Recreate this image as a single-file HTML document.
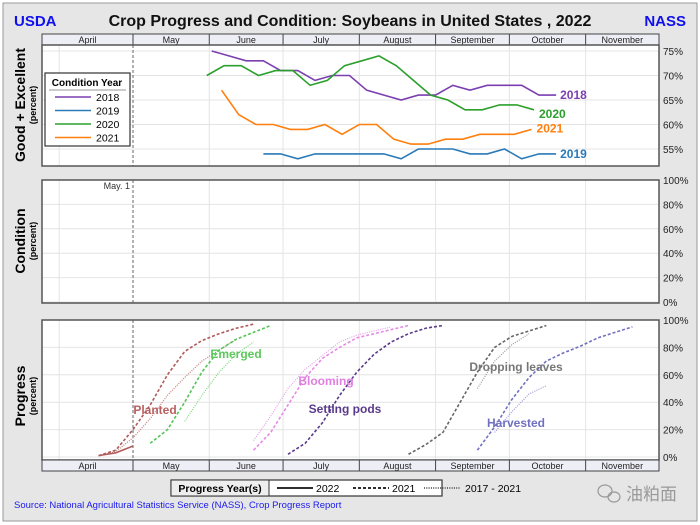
<!DOCTYPE html>
<html><head><meta charset="utf-8"><style>
body{margin:0;background:#fff}
svg{display:block;font-family:"Liberation Sans",sans-serif}
</style></head><body>
<svg id="c" width="700" height="525" viewBox="0 0 700 525" xmlns="http://www.w3.org/2000/svg">
<rect x="3" y="3" width="694" height="518" fill="#e6e6e6" stroke="#999" stroke-width="1"/>
<text x="14" y="26" font-size="15" font-weight="bold" fill="#1010ee">USDA</text>
<text x="350" y="26" font-size="16" font-weight="bold" text-anchor="middle" fill="#111">Crop Progress and Condition: Soybeans in United States , 2022</text>
<text x="686" y="26" font-size="15" font-weight="bold" text-anchor="end" fill="#1010ee">NASS</text>
<g id="g"></g>
</svg>
<script>
// ---------- data ----------
const months = ["April","May","June","July","August","September","October","November"];
const monthStartDays = [-30,0,31,61,92,123,153,184]; // days relative to May 1
const condYears = ["2018","2019","2020","2021"];
const condStart = [32,53,30,36];
const cond2018 = [75,74,73,73,71,71,69,70,70,67,66,65,66,66,68,67,68,68,68,66,66];
const cond2019 = [54,54,53,54,54,54,54,54,53,55,55,55,54,54,55,53,54,54];
const cond2020 = [70,72,72,70,71,71,68,69,72,73,74,72,69,66,65,63,63,64,64,63];
const cond2021 = [67,62,60,60,59,59,60,58,60,60,57,56,56,57,57,58,58,58,59];
const condTicks = [55,60,65,70,75];
const pctTicks = [0,20,40,60,80,100];
const stages = ["Planted","Emerged","Blooming","Setting pods","Dropping leaves","Harvested"];
const planted2022 = [1,3,8];
const planted2021 = [1,5,20,38,60,77,85,90,94,97];
const plantedAvg = [1,4,14,28,45,58,70,78,86];
const emerged2021 = [10,20,40,62,78,86,91,96];
const emergedAvg = [26,45,62,75,84];
const blooming2021 = [5,18,38,58,72,80,87,90,93,96];
const bloomingAvg = [12,30,50,64,74,84,89,92,95];
const pods2021 = [2,10,25,45,62,75,84,90,94,96];
const dropping2021 = [2,9,18,40,62,80,88,92,96];
const droppingAvg = [50,70,82,90];
const harvested2021 = [5,22,42,58,70,76,81,87,91,95];
const harvestedAvg = [18,33,46,52];

// ---------- scales ----------
const L=42,R=659;
const xd=d=>133+d*2.46;
const yc=v=>51+(75-v)*4.9;
const ym=v=>302-v*1.22;
const yp=v=>457-v*1.37;
const NS="http://www.w3.org/2000/svg";
const G=document.getElementById('g');
function mk(tag,attrs,parent){const e=document.createElementNS(NS,tag);for(const k in attrs)e.setAttribute(k,attrs[k]);(parent||G).appendChild(e);return e;}
function txt(s,attrs){const e=mk('text',attrs);e.textContent=s;return e;}

function panel(top,bot,name,ticks,yf,fmt){
  const r=mk('rect',{x:L,y:top,width:R-L,height:bot-top,fill:'#fff'});
  
  
  ticks.forEach(t=>{
    const l=mk('line',{x1:L,x2:R,y1:yf(t),y2:yf(t),stroke:'#e4e4e4'});
    
    
    const tx=txt(fmt(t),{x:R+4,y:yf(t)+4,'font-size':10,fill:'#222'});
    
    
  });
  [-30,31,61,92,123,153,184].forEach(d=>{
    const l=mk('line',{x1:xd(d),x2:xd(d),y1:top,y2:bot,stroke:'#e4e4e4'});
    
    
  });
  const dl=mk('line',{x1:xd(0),x2:xd(0),y1:top,y2:bot,stroke:'#666','stroke-dasharray':'3,2'});
  
  
  const b=mk('rect',{x:L,y:top,width:R-L,height:bot-top,fill:'none',stroke:'#555','stroke-width':1.5});
  
  
}
function monthBar(y){
  const r=mk('rect',{x:L,y:y,width:R-L,height:11,fill:'#eeeef6',stroke:'#444'});
  
  
  months.forEach((m,i)=>{
    const a=i==0?L:xd(monthStartDays[i]);const b=i<7?xd(monthStartDays[i+1]):R;
    if(i>0){const l=mk('line',{x1:a,x2:a,y1:y,y2:y+11,stroke:'#444'});
      
      }
    const t=txt(m,{x:(a+b)/2,y:y+9,'font-size':9,'text-anchor':'middle',fill:'#222'});
    
    
  });
}
function ytitle(x,y,main,sub,name){
  const t=txt(main,{x:0,y:0,'font-size':14,'font-weight':'bold','text-anchor':'middle',transform:`translate(${x},${y}) rotate(-90)`});
  
  
  const s=txt(sub,{x:0,y:0,'font-size':9,'font-weight':'bold','text-anchor':'middle',transform:`translate(${x+11},${y}) rotate(-90)`});
  
  
}

// top panel
monthBar(34);
panel(45,166,'condition-ge',condTicks,yc,t=>t+'%');
ytitle(25,105,'Good + Excellent','(percent)','good-excellent');
const condCols=['#7b3fb0','#2a7ab8','#2ca02c','#ff7f0e'];
const condData=[cond2018,cond2019,cond2020,cond2021];
condData.forEach((arr,i)=>{
  const p=mk('polyline',{points:arr.map((v,k)=>xd(condStart[i]+7*k)+','+yc(v)).join(' '),fill:'none',stroke:condCols[i],'stroke-width':1.6});
  
  
  const last=arr.length-1;
  const off=[[4,4],[4,4],[5,8],[5,3]][i];
  const t=txt(condYears[i],{x:xd(condStart[i]+7*last)+off[0],y:yc(arr[last])+off[1],'font-size':12,'font-weight':'bold',fill:condCols[i]});
  
  
});
const lg=mk('rect',{x:45,y:73,width:85,height:73,fill:'#fff',stroke:'#333','stroke-width':1.2});


const lt=txt('Condition Year',{x:87,y:86,'font-size':10,'font-weight':'bold','text-anchor':'middle'});


mk('line',{x1:49,x2:126,y1:90,y2:90,stroke:'#999'});
condYears.forEach((y,i)=>{
  const l=mk('line',{x1:55,x2:91,y1:97+i*13.5,y2:97+i*13.5,stroke:condCols[i],'stroke-width':1.6});
  
  
  const t=txt(y,{x:96,y:101+i*13.5,'font-size':10.5});
  
  
});

// middle panel
panel(180,303,'condition',pctTicks,ym,t=>t+'%');
ytitle(25,241,'Condition','(percent)','condition');
const ml=txt('May.  1',{x:130,y:189,'font-size':9,'text-anchor':'end',fill:'#333'});



// bottom panel
panel(320,460,'progress',pctTicks,yp,t=>t+'%');
monthBar(460);
ytitle(25,396,'Progress','(percent)','progress');
function series(arr,start,col,dash,w,name){
  const p=mk('polyline',{points:arr.map((v,k)=>xd(start+7*k)+','+yp(v)).join(' '),fill:'none',stroke:col,'stroke-width':w,'stroke-dasharray':dash});
  
  
}
const DA='3,2',DO='1,1.3';
series(plantedAvg,-14,'#c07a7a',DO,1.2,'planted-avg');
series(planted2021,-14,'#b05a5a',DA,1.6,'planted-2021');
series(planted2022,-14,'#b05a5a','',1.6,'planted-2022');
series(emergedAvg,21,'#7ed67e',DO,1.2,'emerged-avg');
series(emerged2021,7,'#55c455',DA,1.6,'emerged-2021');
series(bloomingAvg,49,'#e6a0e6',DO,1.2,'blooming-avg');
series(blooming2021,49,'#e68ae6',DA,1.6,'blooming-2021');
series(pods2021,63,'#5a3a8a',DA,1.6,'setting-pods-2021');
series(droppingAvg,140,'#999',DO,1.2,'dropping-avg');
series(dropping2021,112,'#666',DA,1.6,'dropping-2021');
series(harvestedAvg,147,'#9a9ad6',DO,1.2,'harvested-avg');
series(harvested2021,140,'#7070c0',DA,1.6,'harvested-2021');
const slab=[[155,410,'#b86060'],[236,354,'#5cc85c'],[326,381,'#e080e0'],[345,409,'#5a3a8a'],[516,367,'#777'],[516,423,'#7070c0']];
stages.forEach((s,i)=>{
  const t=txt(s,{x:slab[i][0],y:slab[i][1]+4,'font-size':12,'font-weight':'bold','text-anchor':'middle',fill:slab[i][2]});
  
  
});

// progress legend
const pl=mk('rect',{x:171,y:480,width:271,height:16,fill:'#fff',stroke:'#333','stroke-width':1.2});


mk('rect',{x:171,y:480,width:98,height:16,fill:'#eee',stroke:'#333'});
const pt=txt('Progress Year(s)',{x:220,y:492,'font-size':10.5,'font-weight':'bold','text-anchor':'middle'});


[['2022','',277,'#111'],['2021',DA,353,'#111'],['2017 - 2021',DO,424,'#555']].forEach(e=>{
  const l=mk('line',{x1:e[2],x2:e[2]+36,y1:488,y2:488,stroke:e[3],'stroke-width':1.8,'stroke-dasharray':e[1]});
  
  
});
[['2022',316],['2021',392],['2017 - 2021',465]].forEach(e=>{
  const t=txt(e[0],{x:e[1],y:492,'font-size':10.5});
  
  
});
const src=txt('Source: National Agricultural Statistics Service (NASS), Crop Progress Report',{x:14,y:508,'font-size':9.5,fill:'#1a1aee'});


const wc=mk('g',{});


mk('ellipse',{cx:605,cy:491,rx:7,ry:6,fill:'none',stroke:'#999','stroke-width':1.2},wc);
mk('ellipse',{cx:614,cy:497,rx:6,ry:5,fill:'none',stroke:'#999','stroke-width':1.2},wc);
const w=txt('油粕面',{x:626,y:500,'font-size':17,fill:'#999','font-family':'"Liberation Sans","Noto Sans CJK SC",sans-serif'});


</script>
</body></html>
